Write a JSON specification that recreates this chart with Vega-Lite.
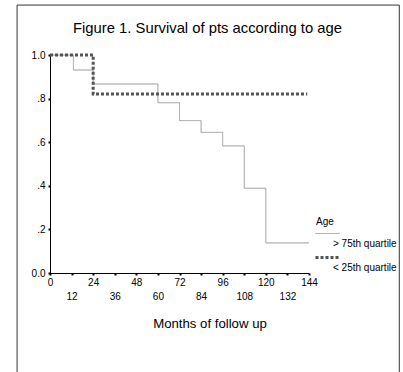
{
  "$schema": "https://vega.github.io/schema/vega-lite/v6.json",
  "width": 259,
  "height": 218,
  "autosize": {"type": "none"},
  "padding": {"left": 50, "top": 55, "right": 94, "bottom": 99},
  "background": "white",
  "config": {"view": {"stroke": null}, "font": "Liberation Sans"},
  "title": {"text": "Figure 1. Survival of pts according to age", "fontSize": 14.8, "fontWeight": "normal", "font": "Liberation Sans", "color": "black", "anchor": "middle", "dx": 28, "offset": -31},
  "datasets": {
    "km": [
      {"group": "> 75th quartile", "month": 0, "surv": 1.0},
      {"group": "> 75th quartile", "month": 13, "surv": 0.931},
      {"group": "> 75th quartile", "month": 24, "surv": 0.867},
      {"group": "> 75th quartile", "month": 60, "surv": 0.781},
      {"group": "> 75th quartile", "month": 72, "surv": 0.699},
      {"group": "> 75th quartile", "month": 84, "surv": 0.645},
      {"group": "> 75th quartile", "month": 96, "surv": 0.583},
      {"group": "> 75th quartile", "month": 108, "surv": 0.389},
      {"group": "> 75th quartile", "month": 120, "surv": 0.138},
      {"group": "> 75th quartile", "month": 144, "surv": 0.138},
      {"group": "< 25th quartile", "month": 0, "surv": 1.0},
      {"group": "< 25th quartile", "month": 24, "surv": 0.821},
      {"group": "< 25th quartile", "month": 143, "surv": 0.821}
    ]
  },
  "resolve": {"axis": {"x": "independent"}},
  "layer": [
    {
      "data": {"values": [{}]},
      "mark": {"type": "rect", "fill": null, "stroke": "#333333", "strokeWidth": 1},
      "encoding": {
        "x": {
          "datum": -18.3, "type": "quantitative",
          "scale": {"domain": [0, 144], "nice": false, "zero": false},
          "axis": {
            "orient": "bottom",
            "values": [12, 36, 60, 84, 108, 132],
            "labelOverlap": false, "labelFontSize": 10, "labelColor": "black",
            "labelFlush": false, "labelPadding": 16,
            "tickColor": "black", "tickSize": 2, "tickWidth": 2,
            "domain": false, "grid": false, "title": null
          }
        },
        "x2": {"datum": 194.2},
        "y": {"datum": 1.229, "type": "quantitative"},
        "y2": {"datum": -0.49}
      }
    },
    {
      "data": {"name": "km"},
      "mark": {"type": "line", "interpolate": "step-after"},
      "encoding": {
        "x": {
          "field": "month", "type": "quantitative",
          "scale": {"domain": [0, 144], "nice": false, "zero": false},
          "axis": {
            "orient": "bottom",
            "values": [0, 24, 48, 72, 96, 120, 144],
            "labelOverlap": false, "labelFontSize": 10, "labelColor": "black",
            "labelFlush": false, "labelPadding": 2,
            "tickColor": "black", "tickSize": 2, "tickWidth": 2,
            "domainColor": "black", "domainWidth": 1, "grid": false,
            "title": "Months of follow up", "titleFontSize": 13.2, "titleFontWeight": "normal", "titleColor": "black",
            "titleX": 159.5, "titleY": 50, "titleBaseline": "middle", "titleAlign": "center"
          }
        },
        "y": {
          "field": "surv", "type": "quantitative",
          "scale": {"domain": [0, 1], "nice": false},
          "axis": {
            "values": [0, 0.2, 0.4, 0.6, 0.8, 1],
            "labelExpr": "datum.value == 0 ? '0.0' : datum.value == 1 ? '1.0' : replace(format(datum.value, '.1f'), '0.', '.')",
            "labelFontSize": 10, "labelColor": "black", "labelPadding": 3, "labelFlush": false,
            "tickColor": "black", "tickSize": 2, "tickWidth": 2,
            "domainColor": "black", "domainWidth": 1, "grid": false, "title": null
          }
        },
        "color": {
          "field": "group", "type": "nominal",
          "scale": {"domain": ["> 75th quartile", "< 25th quartile"], "range": ["#9a9a9a", "#555555"]},
          "legend": {
            "title": "Age", "orient": "none", "legendX": 266, "legendY": 162,
            "titleFontSize": 10, "titleFontWeight": "normal", "titleColor": "black", "titlePadding": 10,
            "labelFontSize": 10, "labelColor": "black", "labelBaseline": "middle", "labelOffset": -2,
            "symbolType": "M-2,-1.667H2", "symbolSize": 144, "symbolOffset": 4, "rowPadding": 2
          }
        },
        "strokeDash": {
          "field": "group", "type": "nominal",
          "scale": {"domain": ["> 75th quartile", "< 25th quartile"], "range": [[1, 0], [3, 2]]}
        },
        "strokeWidth": {
          "field": "group", "type": "nominal",
          "scale": {"domain": ["> 75th quartile", "< 25th quartile"], "range": [1, 3]}
        }
      }
    }
  ]
}
